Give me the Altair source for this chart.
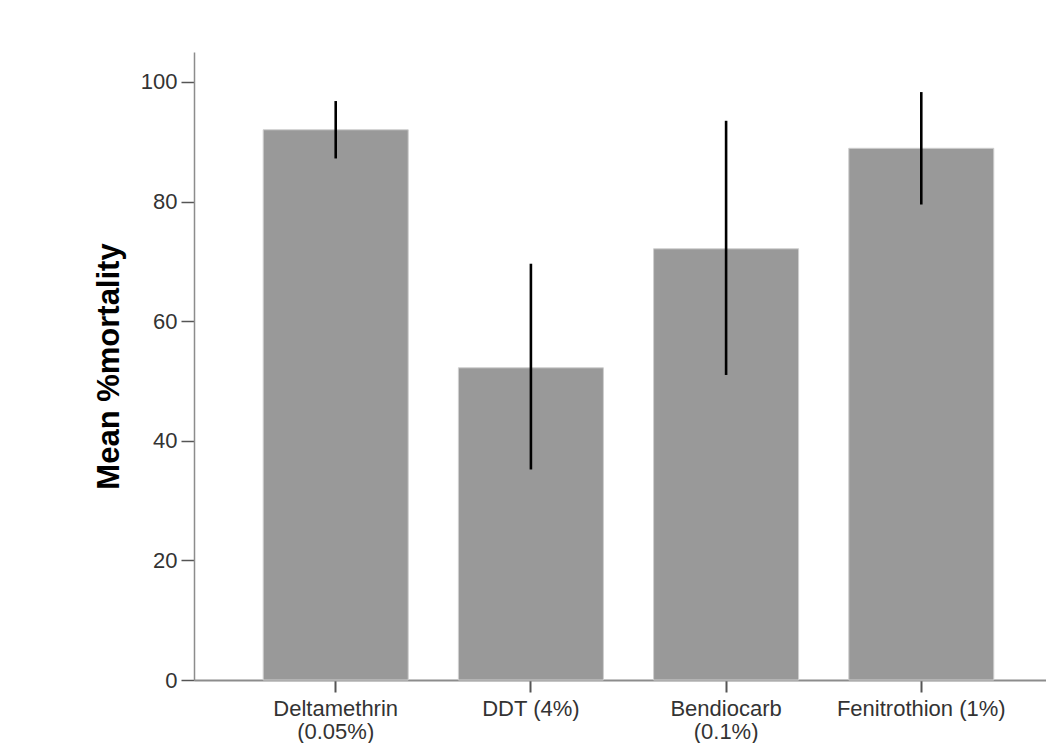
import altair as alt
import pandas as pd

# Data
tick_labels = ["Deltamethrin|(0.05%)", "DDT (4%)", "Bendiocarb|(0.1%)", "Fenitrothion (1%)"]
means = [92.0, 52.2, 72.1, 88.9]
err_low = [87.2, 35.2, 51.0, 79.5]
err_high = [96.8, 69.6, 93.5, 98.3]

df = pd.DataFrame({
    "insecticide": tick_labels,
    "mean": means,
    "lo": err_low,
    "hi": err_high,
})

x_enc = alt.X(
    "insecticide:N",
    sort=tick_labels,
    scale=alt.Scale(paddingInner=0.257, paddingOuter=0.311, align=0.57),
    axis=alt.Axis(
        title=None,
        labelAngle=0,
        labelExpr="split(datum.label, '|')",
        labelFont="Liberation Sans",
        labelFontSize=22,
        labelLineHeight=23,
        labelColor="#333333",
        labelPadding=6,
        labelBaseline="top",
        tickSize=12,
        tickWidth=2,
        tickColor="#555555",
        domainColor="#8c8c8c",
        domainWidth=2,
    ),
)

y_scale = alt.Scale(domain=[0, 105], nice=False, zero=True)
y_axis = alt.Axis(
    title="Mean %mortality",
    values=[0, 20, 40, 60, 80, 100],
    grid=False,
    labelFont="Liberation Sans",
    labelFontSize=22,
    labelColor="#333333",
    labelPadding=4,
    tickSize=13,
    tickWidth=1.5,
    tickColor="#555555",
    domainColor="#8c8c8c",
    domainWidth=1.5,
    titleFont="Liberation Sans",
    titleFontSize=31,
    titleFontWeight="bold",
    titleColor="#000000",
    titleAngle=-90,
    titleBaseline="middle",
    titleAlign="center",
    titleX=-85,
    titleY=314,
)

bars = alt.Chart(df).mark_bar(color="#999999", stroke="#cfcfcf", strokeWidth=1).encode(
    x=x_enc,
    y=alt.Y("mean:Q", scale=y_scale, axis=y_axis),
)

errs = alt.Chart(df).mark_rule(color="#000000", strokeWidth=2.6).encode(
    x=alt.X("insecticide:N", sort=tick_labels),
    y=alt.Y("lo:Q", scale=y_scale),
    y2="hi:Q",
)

chart = alt.layer(bars, errs).properties(
    width=852,
    height=628,
    autosize=alt.AutoSizeParams(type="none"),
    padding={"left": 186, "top": 44, "right": 0, "bottom": 63},
    background="#ffffff",
).configure_view(stroke=None)

chart.save("out.html", embed_options={"renderer": "svg", "actions": False})
